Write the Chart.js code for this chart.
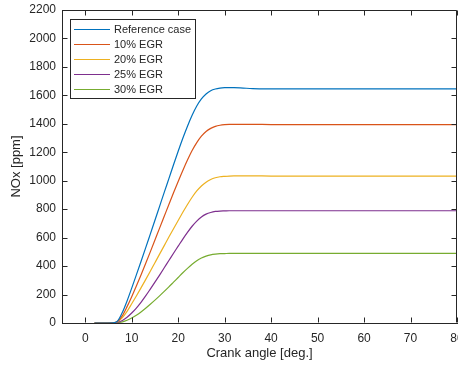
<!DOCTYPE html>
<html>
<head>
<meta charset="utf-8">
<script src="https://cdn.jsdelivr.net/npm/chart.js@4.4.1/dist/chart.umd.min.js"></script>
<style>
  body { margin: 0; background: #fff; }
  #grafico { display: block; }
</style>
</head>
<body>
<canvas id="grafico" width="458" height="365"></canvas>
<script>
// crank angle [deg.]
const angulo = [2,3,4,5,6,7,8,9,10,11,12,13,14,15,16,17,18,19,20,21,22,23,24,25,26,27,28,29,30,31,32,34,36,40,50,60,70,80];

// NOx [ppm]
const casoReferencia = [0,0,0,0,1,15,75,155,245,338,432,528,625,722,820,918,1015,1112,1207,1298,1383,1460,1525,1575,1610,1633,1645,1651,1654,1655,1654,1651,1648,1646,1645,1645,1645,1645];
const egr10 = [0,0,0,0,1,12,52,115,185,260,338,418,500,583,667,750,833,915,995,1072,1145,1212,1268,1313,1346,1368,1382,1390,1394,1396,1396,1396,1396,1395,1395,1395,1395,1395];
const egr20 = [0,0,0,0,1,10,38,82,135,190,247,305,364,424,484,544,604,663,721,778,833,884,928,963,990,1009,1021,1028,1031,1033,1034,1034,1034,1033,1033,1033,1033,1033];
const egr25 = [0,0,0,0,0,5,18,40,70,105,145,190,238,287,337,388,439,490,540,590,637,680,716,745,765,777,784,787,788,789,789,789,789,789,789,789,789,789];
const egr30 = [0,0,0,0,0,2,8,19,35,55,78,104,132,161,191,222,254,287,320,353,384,413,438,457,470,479,484,487,488,489,489,489,489,489,489,489,489,489];

const etiquetas = ['Reference case', '10% EGR', '20% EGR', '25% EGR', '30% EGR'];
const colores = ['#0072BD', '#D95319', '#EDB120', '#7E2F8E', '#77AC30'];
const series = [casoReferencia, egr10, egr20, egr25, egr30];

const ticksX = [0,10,20,30,40,50,60,70,80];

const fuente = '"Liberation Sans", Arial, sans-serif';
const gris = '#262626';

const datasets = series.map((valores, i) => ({
  label: etiquetas[i],
  data: valores.map((v, j) => ({ x: angulo[j], y: v })),
  borderColor: colores[i],
  backgroundColor: colores[i],
  borderWidth: 1.2,
  pointRadius: 0,
  cubicInterpolationMode: 'monotone',
  fill: false
}));

// marco, ticks hacia adentro y leyenda dentro del area
const marcoPlugin = {
  id: 'marco',
  afterDraw(chart) {
    const ctx = chart.ctx;
    const { left, right, top, bottom } = chart.chartArea;
    const x = chart.scales.x;
    const y = chart.scales.y;
    const L = Math.round(left) + 0.5, R = Math.round(right) - 0.5;
    const T = Math.round(top) + 0.5, B = Math.round(bottom) - 0.5;
    ctx.save();
    ctx.strokeStyle = gris;
    ctx.lineWidth = 1;
    ctx.beginPath();
    ctx.moveTo(L, T); ctx.lineTo(R, T); ctx.lineTo(R, B);
    x.ticks.forEach(t => {
      const px = Math.round(x.getPixelForValue(t.value)) + 0.5;
      ctx.moveTo(px, B); ctx.lineTo(px, B - 5);
      ctx.moveTo(px, T); ctx.lineTo(px, T + 5);
    });
    y.ticks.forEach(t => {
      const py = Math.round(y.getPixelForValue(t.value)) + 0.5;
      ctx.moveTo(L, py); ctx.lineTo(L + 5, py);
      ctx.moveTo(R, py); ctx.lineTo(R - 5, py);
    });
    ctx.stroke();

    // leyenda
    const bx = 70.5, by = 19.5, bw = 125, bh = 79;
    ctx.fillStyle = '#fff';
    ctx.fillRect(bx, by, bw, bh);
    ctx.strokeStyle = gris;
    ctx.strokeRect(bx, by, bw, bh);
    ctx.font = '11px ' + fuente;
    ctx.textBaseline = 'middle';
    ctx.textAlign = 'left';
    chart.data.datasets.forEach((ds, i) => {
      const fy = 29.5 + i * 15;
      ctx.strokeStyle = ds.borderColor;
      ctx.lineWidth = 1.2;
      ctx.beginPath();
      ctx.moveTo(74, fy); ctx.lineTo(110, fy);
      ctx.stroke();
      ctx.fillStyle = gris;
      ctx.fillText(ds.label, 114, fy + 0.5);
    });
    ctx.restore();
  }
};

new Chart(document.getElementById('grafico').getContext('2d'), {
  type: 'line',
  data: { datasets: datasets },
  options: {
    responsive: false,
    animation: false,
    layout: { padding: { top: 10, right: 1, left: 0, bottom: 0 } },
    plugins: { legend: { display: false }, tooltip: { enabled: false } },
    scales: {
      x: {
        type: 'linear',
        min: -5,
        max: 80,
        afterBuildTicks: s => { s.ticks = ticksX.map(v => ({ value: v })); },
        afterFit: s => { s.height = 42; s.paddingLeft = 0; s.paddingRight = 0; },
        grid: { drawOnChartArea: false, drawTicks: false },
        border: { color: gris, width: 1 },
        ticks: { color: gris, font: { family: fuente, size: 12 }, padding: 8, maxRotation: 0, callback: v => String(v) },
        title: { display: true, text: 'Crank angle [deg.]', color: gris, font: { family: fuente, size: 13 }, padding: { top: 4, bottom: 4 } }
      },
      y: {
        min: 0,
        max: 2200,
        ticks: { stepSize: 200, color: gris, font: { family: fuente, size: 12 }, padding: 6, callback: v => String(v) },
        afterFit: s => { s.width = 62; s.paddingTop = 0; s.paddingBottom = 0; },
        grid: { drawOnChartArea: false, drawTicks: false },
        border: { color: gris, width: 1 },
        title: { display: true, text: 'NOx [ppm]', color: gris, font: { family: fuente, size: 13 }, padding: { top: 9, bottom: 4 } }
      }
    }
  },
  plugins: [marcoPlugin]
});
</script>
</body>
</html>
